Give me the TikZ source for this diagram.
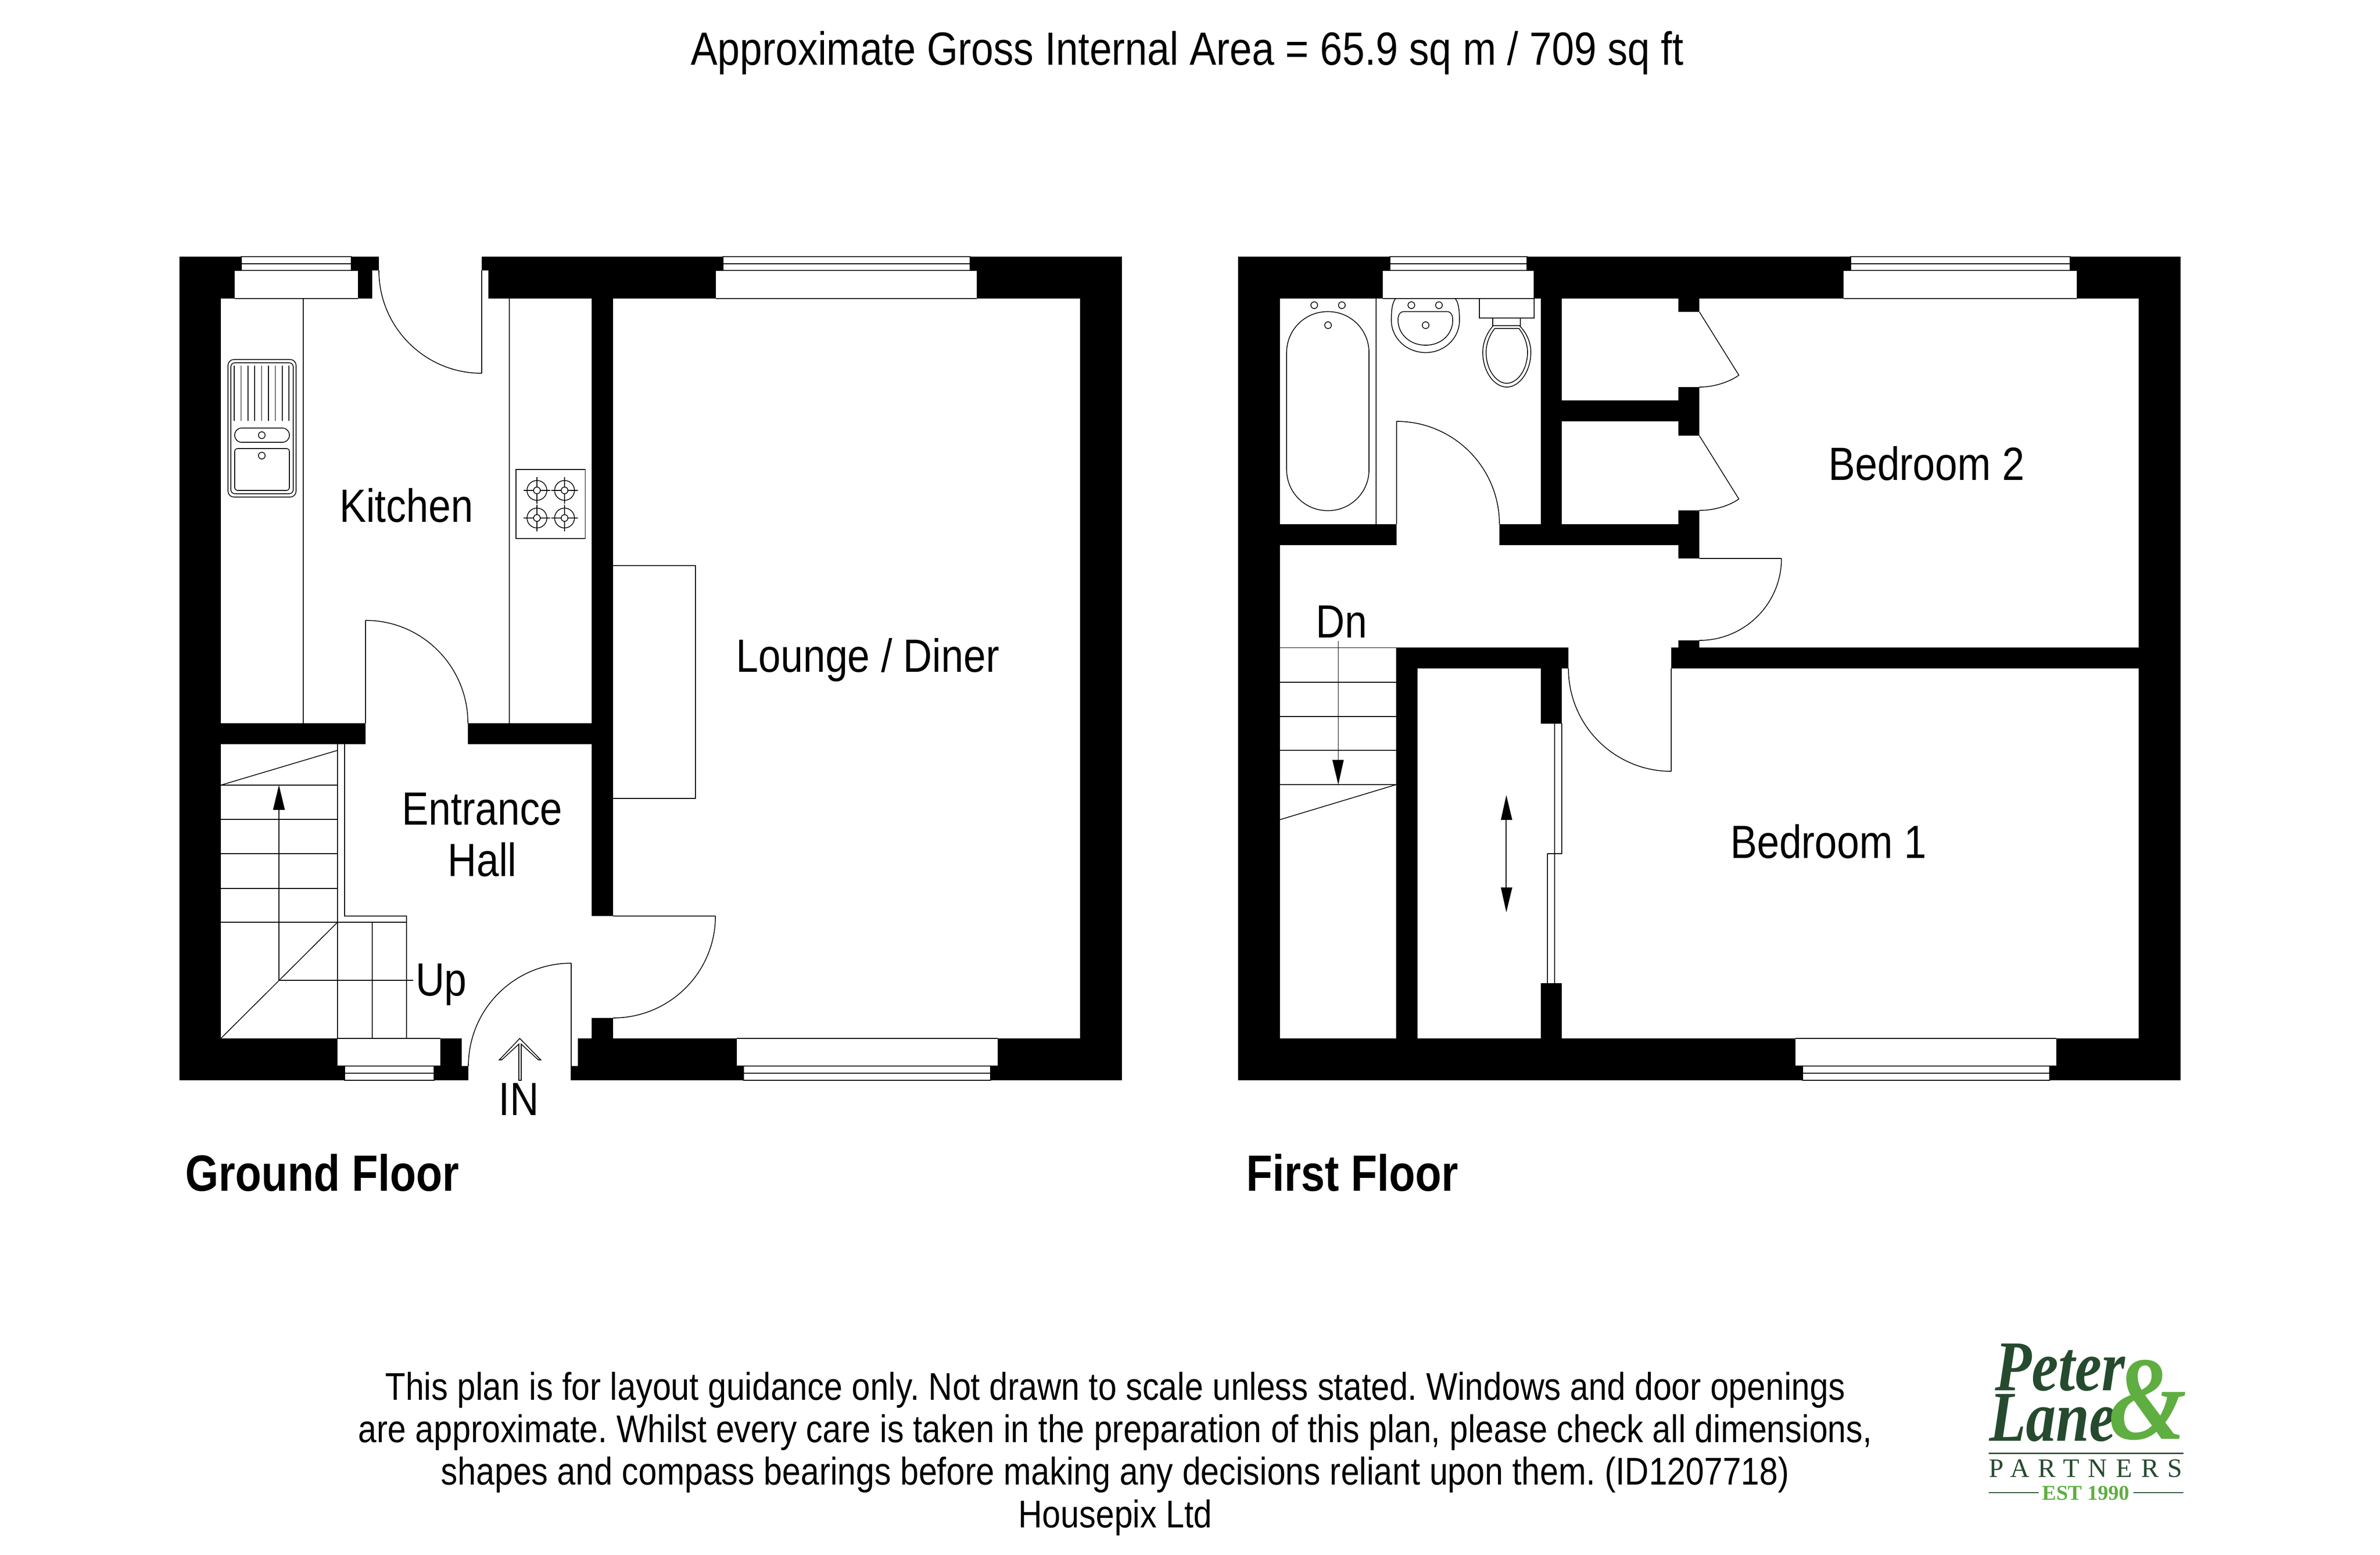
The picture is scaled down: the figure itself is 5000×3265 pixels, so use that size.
\documentclass[tikz,border=0pt]{standalone}
\usepackage{fontspec}
\setmainfont{Liberation Sans}
\newfontfamily\plan[FakeStretch=0.86]{Liberation Sans}
\newfontfamily\planb[FakeStretch=0.84]{Liberation Sans Bold}
\newfontfamily\logoital[FakeStretch=0.84]{Liberation Serif Bold Italic}
\newfontfamily\logoserif[LetterSpace=33]{Liberation Serif}
\newfontfamily\logoest{Liberation Serif Bold}
\definecolor{logodark}{HTML}{264A2E}
\definecolor{logolight}{HTML}{5FAE41}
\frenchspacing
\tikzset{
  void/.style={fill=white,draw=none},
  planline/.style={draw=black,line width=0.4pt,fill=none},
  pane/.style={fill=white,draw=black,line width=0.5pt},
  room/.style={anchor=base,inner sep=0pt,font=\plan\fontsize{23.5}{28}\selectfont},
  floorname/.style={anchor=base west,inner sep=0pt,font=\planb\fontsize{25.7}{30}\selectfont},
  caption/.style={anchor=base,inner sep=0pt,font=\plan\fontsize{19.45}{24}\selectfont},
  head/.style={fill=black,draw=none}
}
\newcommand\doorarc[6]{%
  \pgfmathsetmacro\arcax{#1+0.5523*(#3-#5)}%
  \pgfmathsetmacro\arcay{#2+0.5523*(#4-#6)}%
  \pgfmathsetmacro\arcbx{#3+0.5523*(#1-#5)}%
  \pgfmathsetmacro\arcby{#4+0.5523*(#2-#6)}%
  \draw[planline] (#1,#2) .. controls (\arcax,\arcay) and (\arcbx,\arcby) .. (#3,#4);}
\newcommand\topwin[4]{%
  \fill[void] (#1,568) rectangle (#2,627);
  \draw[pane] (#3,539) rectangle (#4,554);
  \draw[pane] (#3,554) rectangle (#4,568);
  \draw[planline] (#1,568) -- (#2,568);
  \draw[planline] (#1,627) -- (#2,627);}
\newcommand\botwin[4]{%
  \fill[void] (#1,2181) rectangle (#2,2239);
  \draw[pane] (#3,2239) rectangle (#4,2254);
  \draw[pane] (#3,2254) rectangle (#4,2269);
  \draw[planline] (#1,2181) -- (#2,2181);
  \draw[planline] (#1,2239) -- (#2,2239);}
\newcommand\burner[2]{%
  \draw[planline] (#1,#2) circle[radius=5pt];
  \draw[planline] (#1,#2) circle[radius=1.7pt];
  \draw[planline] (#1-28,#2) -- (#1-7,#2) (#1+7,#2) -- (#1+28,#2) (#1,#2-28) -- (#1,#2-7) (#1,#2+7) -- (#1,#2+28);}
\newcommand\smallhole[2]{\draw[planline] (#1,#2) circle[radius=1.7pt];}
\begin{document}
\begin{tikzpicture}[x=0.24pt,y=-0.24pt]
\useasboundingbox (0,0) rectangle (5000,3265);
\fill[white] (0,0) rectangle (5000,3265);

%%%%% GROUND FLOOR
\fill[black] (377,539) rectangle (2357,2269);
% kitchen
\fill[void] (464,627) rectangle (1243,1519);
\fill[void] (782,568) rectangle (1026,627);
\fill[void] (796,539) rectangle (1012,568);
\fill[void] (768,1519) rectangle (983,1563);
% hall
\fill[void] (464,1563) rectangle (1243,2181);
\fill[void] (1243,1924) rectangle (1288,2138);
\fill[void] (970,2181) rectangle (1214,2239);
\fill[void] (984,2239) rectangle (1200,2269);
% lounge
\fill[void] (1288,627) rectangle (2269,2181);
% windows
\topwin{493}{752}{507}{738}
\topwin{1504}{2052}{1519}{2038}
\botwin{709}{925}{724}{912}
\botwin{1548}{2096}{1562}{2081}
% kitchen door to outside
\draw[planline] (1012,568) -- (1012,784);
\doorarc{796}{568}{1012}{784}{1012}{568}
% kitchen door to hall
\draw[planline] (768,1519) -- (768,1303);
\doorarc{768}{1303}{983}{1519}{768}{1519}
% counters
\draw[planline] (637,627) -- (637,1519);
\draw[planline] (1070,627) -- (1070,1519);
% sink
\draw[planline,rounded corners=3pt] (479,755) rectangle (622,1044);
\draw[planline,rounded corners=2pt] (485,762) rectangle (616,1037);
\foreach \sx in {492,506.4,520.8,535.2,549.6,564,578.4,592.8,607.2}
  \draw[planline] (\sx,768) -- (\sx,884);
\draw[planline,rounded corners=3.6pt] (493,899) rectangle (608,929);
\smallhole{550}{914}
\draw[planline,rounded corners=1.5pt] (493,942) rectangle (608,1030);
\smallhole{550}{957}
% hob
\draw[planline] (1084,986) rectangle (1229.5,1131);
\burner{1128}{1030}
\burner{1186}{1030}
\burner{1128}{1088}
\burner{1186}{1088}
% chimney breast
\draw[planline] (1288,1188) -- (1461,1188) -- (1461,1677) -- (1288,1677);
% lounge door
\draw[planline] (1288,1924) -- (1503,1924);
\doorarc{1503}{1924}{1288}{2138}{1288}{1924}
% front door
\draw[planline] (1200,2269) -- (1200,2023);
\doorarc{984}{2239}{1200}{2023}{1200}{2239}
% stairs
\draw[planline] (709,1563) -- (709,2181);
\draw[planline] (724,1563) -- (724,1924) -- (854,1924) -- (854,2181);
\draw[planline] (464,1937) -- (854,1937);
\draw[planline] (782,1937) -- (782,2181);
\foreach \ty in {1649,1721,1793,1866}
  \draw[planline] (464,\ty) -- (709,\ty);
\draw[planline] (464,1649) -- (709,1576);
\draw[planline] (464,2181) -- (709,1937);
\draw[planline] (586,1700) -- (586,2059) -- (868,2059);
\fill[head] (586,1649) -- (598.5,1701) -- (573.5,1701) -- cycle;
% IN arrow
\draw[planline] (1049,2226) -- (1092,2181) -- (1136,2226) -- (1131,2226) -- (1095,2193) -- (1095,2269) -- (1090,2269) -- (1090,2193) -- (1054,2226) -- cycle;

% ground labels
\node[room] (kitchen) at (853.5,1096) {Kitchen};
\node[room] (lounge) at (1823,1411) {Lounge / Diner};
\node[room] (entrance) at (1013,1732) {Entrance};
\node[room] (hall) at (1013,1840) {Hall};
\node[room] (up) at (927,2091) {Up};
\node[room] (in) at (1090,2342) {IN};
\node[floorname] (gf) at (389,2501) {Ground Floor};

%%%%% FIRST FLOOR
\fill[black] (2601,539) rectangle (4581,2269);
% bathroom
\fill[void] (2689,627) rectangle (3237,1101);
\fill[void] (2934,1101) rectangle (3150,1145);
% landing + stairs
\fill[void] (2689,1145) rectangle (3526,1360);
\fill[void] (2689,1360) rectangle (2933,2181);
\fill[void] (3526,1173) rectangle (3570,1345);
\fill[void] (3295,1360) rectangle (3511,1404);
% cupboards
\fill[void] (3281,627) rectangle (3526,841);
\fill[void] (3281,885) rectangle (3526,1101);
\fill[void] (3526,655) rectangle (3570,813);
\fill[void] (3526,915) rectangle (3570,1072);
% bedroom 2
\fill[void] (3570,627) rectangle (4493,1360);
% bedroom 1
\fill[void] (3281,1404) rectangle (4493,2181);
% wardrobe
\fill[void] (2978,1404) rectangle (3237,2181);
\fill[void] (3237,1519) rectangle (3281,2066);
% windows
\topwin{2905}{3222}{2920}{3208}
\topwin{3873}{4363}{3888}{4349}
\botwin{3772}{4320}{3787}{4306}
% bath
\draw[planline] (2891,627) -- (2891,1101);
\draw[planline,rounded corners=20.6pt] (2703,654.5) rectangle (2876,1072.5);
\smallhole{2761}{641}
\smallhole{2819}{641}
\smallhole{2790}{683}
% basin
\draw[planline] (2932,627) .. controls (2925,635) and (2923,650) .. (2923,673) .. controls (2923,710) and (2955,740.5) .. (2995,740.5) .. controls (3035,740.5) and (3066,710) .. (3066,673) .. controls (3066,650) and (3064,635) .. (3057,627);
\draw[planline] (2949,654.5) -- (3040,654.5) .. controls (3048,654.5) and (3052,662) .. (3052,672) .. controls (3052,702) and (3028,725) .. (2995,725) .. controls (2962,725) and (2937,702) .. (2937,672) .. controls (2937,662) and (2941,654.5) .. (2949,654.5) -- cycle;
\smallhole{2965}{641}
\smallhole{3023}{641}
\smallhole{2995}{683}
% wc
\draw[planline] (3108,627) rectangle (3223,668);
\draw[planline] (3136,668) rectangle (3194,684);
\draw[planline] (3137,684) -- (3192,684) .. controls (3208,700) and (3216,720) .. (3216,740) .. controls (3216,780) and (3192,813) .. (3165.5,813) .. controls (3139,813) and (3115,780) .. (3115,740) .. controls (3115,720) and (3123,700) .. (3137,684) -- cycle;
\draw[planline] (3140,690) -- (3191,690) .. controls (3202,704) and (3209,722) .. (3209,740) .. controls (3209,776) and (3188,805) .. (3165.5,805) .. controls (3143,805) and (3122,776) .. (3122,740) .. controls (3122,722) and (3129,704) .. (3140,690) -- cycle;
% bathroom door
\draw[planline] (2934,1101) -- (2934,885);
\doorarc{2934}{885}{3150}{1101}{2934}{1101}
% cupboard doors
\draw[planline] (3570,655) -- (3653,788) .. controls (3632,803) and (3600,813) .. (3570,813);
\draw[planline] (3570,915) -- (3653,1048) .. controls (3632,1063) and (3600,1072) .. (3570,1072);
% bedroom 2 door
\draw[planline] (3570,1173) -- (3742.5,1173);
\doorarc{3742.5}{1173}{3570}{1345}{3570}{1173}
% bedroom 1 door
\draw[planline] (3511,1404) -- (3511,1620);
\doorarc{3295}{1404}{3511}{1620}{3511}{1404}
% sliding doors
\draw[planline] (3281,1519) -- (3281,1793) -- (3251,1793) -- (3251,2066);
\draw[planline] (3266,1519) -- (3266,2066);
\draw[planline] (3237,1519) -- (3281,1519);
\draw[planline] (3237,2066) -- (3281,2066);
\fill[black] (3237,1404) rectangle (3281,1519);
\fill[black] (3237,2066) rectangle (3281,2181);
% double arrow
\draw[planline] (3164,1722) -- (3164,1864);
\fill[head] (3164.5,1670) -- (3177,1722) -- (3153,1722) -- cycle;
\fill[head] (3164.5,1916) -- (3177,1864) -- (3153,1864) -- cycle;
% stairs down
\foreach \ty in {1360.6,1433,1505,1576,1648}
  \draw[planline] (2689,\ty) -- (2933,\ty);
\draw[planline] (2689,1721.5) -- (2933,1648);
\draw[planline] (2811.5,1346) -- (2811.5,1600);
\fill[head] (2811.5,1648) -- (2823,1596) -- (2799,1596) -- cycle;

% first floor labels
\node[room] (bed2) at (4047,1008) {Bedroom 2};
\node[room] (bed1) at (3841,1802) {Bedroom 1};
\node[room] (dn) at (2818,1339) {Dn};
\node[floorname] (ff) at (2618,2501) {First Floor};

%%%%% TITLE AND FOOTER
\node[caption,font=\plan\fontsize{23.5}{28}\selectfont] (title) at (2494,136) {Approximate Gross Internal Area = 65.9 sq m / 709 sq ft};
\node[caption] (foot1) at (2343,2940) {This plan is for layout guidance only. Not drawn to scale unless stated. Windows and door openings};
\node[caption] (foot2) at (2343,3029) {are approximate. Whilst every care is taken in the preparation of this plan, please check all dimensions,};
\node[caption] (foot3) at (2343,3118) {shapes and compass bearings before making any decisions reliant upon them. (ID1207718)};
\node[caption] (foot4) at (2343,3208) {Housepix Ltd};

%%%%% LOGO
\node[anchor=base west,inner sep=0pt,text=logodark,font=\logoital\fontsize{36}{42}\selectfont] (peter) at (4191,2920) {Peter};
\node[anchor=base west,inner sep=0pt,text=logodark,font=\logoital\fontsize{36}{42}\selectfont] (lane) at (4179,3026) {Lane};
\node[anchor=base west,inner sep=0pt,text=logolight,font=\logoital\fontsize{60}{68}\selectfont] (amp) at (4430,3022) {\&};
\coordinate (ruleA) at (4178,3052);
\coordinate (ruleB) at (4587,3052);
\draw[logodark,line width=0.7pt] (ruleA) -- (ruleB);
\node[anchor=base west,inner sep=0pt,text=logodark,font=\logoserif\fontsize{13.4}{16}\selectfont] (partners) at (4178,3102) {PARTNERS};
\node[anchor=base,inner sep=0pt,text=logolight,font=\logoest\fontsize{10.6}{12}\selectfont] (est) at (4382,3150) {EST 1990};
\coordinate (leftA) at (4178,3135);
\coordinate (leftB) at (4283,3135);
\coordinate (rightA) at (4482,3135);
\coordinate (rightB) at (4587,3135);
\draw[logodark,line width=0.5pt] (leftA) -- (leftB);
\draw[logodark,line width=0.5pt] (rightA) -- (rightB);
\end{tikzpicture}
\end{document}
